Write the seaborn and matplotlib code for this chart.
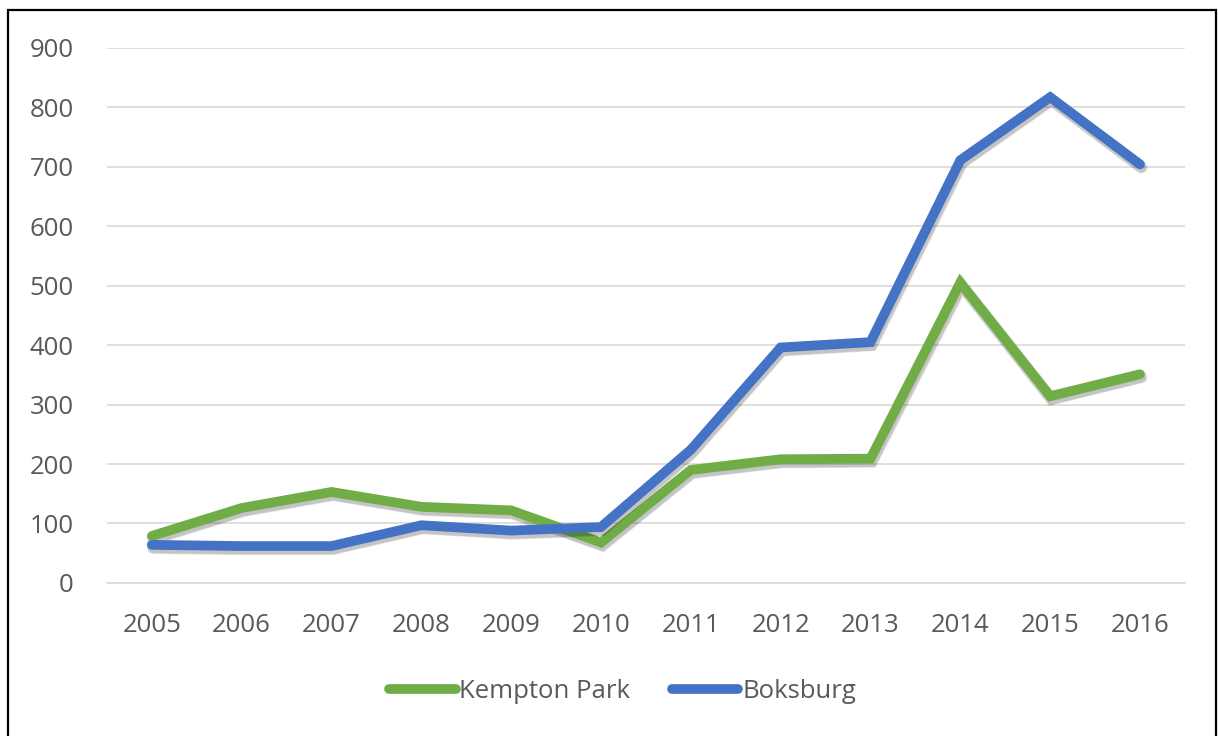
import matplotlib
matplotlib.use('Agg')
import matplotlib.pyplot as plt
import matplotlib.patheffects as pe
from matplotlib.patches import Rectangle
import pandas as pd
import seaborn as sns

years = [2005, 2006, 2007, 2008, 2009, 2010, 2011, 2012, 2013, 2014, 2015, 2016]
kempton_park = [79, 126, 153, 128, 122, 68, 190, 208, 209, 505, 314, 351]
boksburg = [64, 62, 62, 97, 88, 94, 224, 396, 405, 711, 817, 704]
series_names = ['Kempton Park', 'Boksburg']
y_ticks = [0, 100, 200, 300, 400, 500, 600, 700, 800, 900]

df = pd.DataFrame({
    'year': years * 2,
    'value': kempton_park + boksburg,
    'series': [series_names[0]] * len(years) + [series_names[1]] * len(years),
})

sns.set_theme(style='white')
plt.rcParams['font.family'] = ['Open Sans', 'DejaVu Sans']

fig = plt.figure(figsize=(12.18, 7.36), dpi=100)
ax = fig.add_axes([0.0878, 0.208, 0.885, 0.727])

# soft drop shadow like the excel chart
shadow = [pe.SimpleLineShadow(offset=(1, -2), alpha=0.12, shadow_color='black', linewidth=9),
          pe.SimpleLineShadow(offset=(1, -2.5), alpha=0.12, shadow_color='black'),
          pe.Normal()]
sns.lineplot(data=df, x='year', y='value', hue='series', hue_order=series_names,
             palette=['#70ad47', '#4472c4'], linewidth=7, ax=ax,
             solid_capstyle='round', solid_joinstyle='miter')
for ln in ax.get_lines():
    ln.set_path_effects(shadow)

ax.set_xlim(years[0] - 0.5, years[-1] + 0.5)
ax.set_ylim(0, 900)
ax.set_xticks(years)
ax.set_xticklabels([str(y) for y in years])
ax.set_yticks(y_ticks)
ax.set_xlabel('')
ax.set_ylabel('')
ax.yaxis.grid(True, color='#d9d9d9', linewidth=1.2)
ax.set_axisbelow(True)
for s in ['top', 'right', 'left']:
    ax.spines[s].set_visible(False)
ax.spines['bottom'].set_color('#d9d9d9')
ax.spines['bottom'].set_linewidth(1.2)
ax.tick_params(axis='both', colors='#595959', labelsize=18.5, length=0)
ax.tick_params(axis='x', pad=22)
ax.tick_params(axis='y', pad=24)

handles, labels = ax.get_legend_handles_labels()
ax.get_legend().remove()
leg = fig.legend(handles, labels, loc='center', bbox_to_anchor=(0.511, 0.06), ncol=2,
                 frameon=False, fontsize=18.5, handlelength=2.6, handletextpad=0.15,
                 columnspacing=1.6)
for t in leg.get_texts():
    t.set_color('#595959')
for l in leg.get_lines():
    l.set_linewidth(7)
    l.set_path_effects([])

fig.patches.append(Rectangle((8 / 1218, -0.01), (1216 - 8) / 1218, (736 - 10) / 736 + 0.01,
                             transform=fig.transFigure, fill=False, edgecolor='black',
                             linewidth=1.6))

plt.savefig('out.png', dpi=100)
plt.close()
